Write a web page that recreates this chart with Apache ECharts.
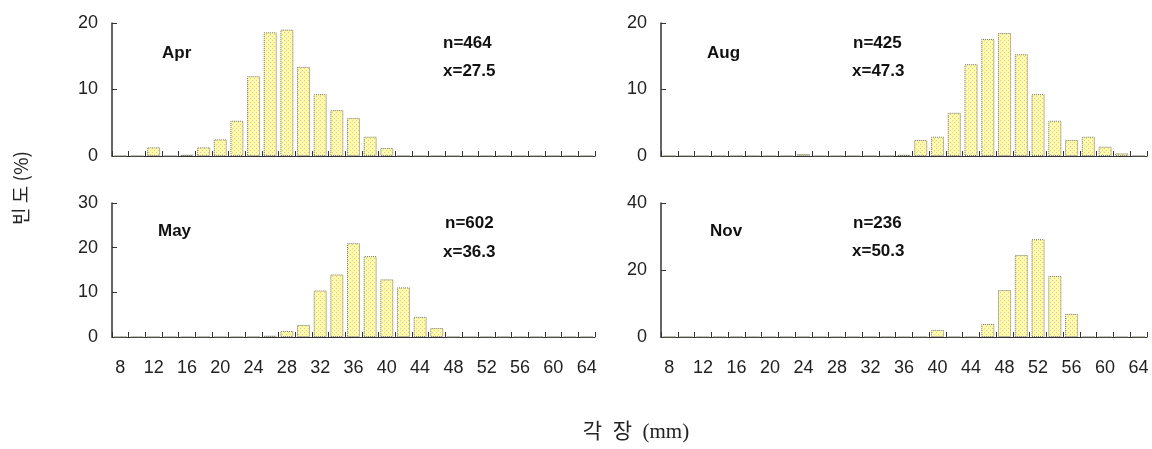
<!DOCTYPE html>
<html>
<head>
<meta charset="utf-8">
<script src="https://cdn.jsdelivr.net/npm/echarts@6/dist/echarts.min.js"></script>
<style>html,body{margin:0;padding:0;background:#fff}#c{width:1152px;height:449px}</style>
</head>
<body>
<div id="c"></div>
<script>
// ---- data ----
const categories = [8,10,12,14,16,18,20,22,24,26,28,30,32,34,36,38,40,42,44,46,48,50,52,54,56,58,60,62,64];
const aprValues = [0,0,1.3,0,0.2,1.3,2.5,5.3,12.0,18.6,19.0,13.4,9.3,6.9,5.7,2.9,1.2,0,0,0,0,0,0,0,0,0,0,0,0];
const augValues = [0,0,0,0,0,0,0,0,0.3,0,0,0,0,0,0.2,2.4,2.9,6.5,13.8,17.6,18.5,15.3,9.3,5.3,2.4,2.9,1.4,0.4,0];
const mayValues = [0,0,0,0,0,0,0,0,0,0.3,1.35,2.7,10.4,14.0,21.0,18.1,12.9,11.1,4.5,2.0,0,0,0,0,0,0,0,0,0];
const novValues = [0,0,0,0,0,0,0,0,0,0,0,0,0,0,0,0,2.1,0,0,3.9,14.0,24.5,29.2,18.2,6.9,0,0,0,0];
const panelMonths = ['Apr','Aug','May','Nov'];
const panelN = ['n=464','n=425','n=602','n=236'];
const panelMean = ['x=27.5','x=47.3','x=36.3','x=50.3'];
const yMax = [20,20,30,40];
const yInterval = [10,10,10,20];
const yTitle = '빈 도 (%)';
const xTitle = '각  장  (mm)';

// ---- pattern fill ----
function makePattern(){
  const c = document.createElement('canvas');
  c.width = 4; c.height = 4;
  const g = c.getContext('2d');
  g.fillStyle = '#fffaa6'; g.fillRect(0,0,4,4);
  g.fillStyle = '#f6c08a'; g.fillRect(0,0,1,1);
  g.fillStyle = '#d0d0a8'; g.fillRect(2,2,1,1);
  g.fillStyle = '#fffde0'; g.fillRect(2,0,1,1);
  return c;
}
const pat = makePattern();

const grids = [
  {left:112, top:23, width:483, height:133},
  {left:661, top:23, width:486, height:133},
  {left:112, top:203, width:483, height:134},
  {left:661, top:203, width:486, height:134}
];
const seriesData = [aprValues, augValues, mayValues, novValues];
const labelFont = 'Liberation Sans, Arial, sans-serif';

const xAxes = grids.map((g,i)=>({
  type:'category', gridIndex:i, data:categories, boundaryGap:true,
  axisLine:{lineStyle:{color:'#333', width:1.2}},
  axisTick:{show:true, inside:true, length:5, interval:0, lineStyle:{color:'#333'}},
  axisLabel:{show:i>=2, interval:1, margin:22, fontSize:18, color:'#222', fontFamily:labelFont}
}));
const yAxes = grids.map((g,i)=>({
  type:'value', gridIndex:i, min:0, max:yMax[i], interval:yInterval[i],
  splitLine:{show:false},
  axisLine:{show:true, lineStyle:{color:'#333', width:1.5}},
  axisTick:{show:true, inside:true, length:5, lineStyle:{color:'#333'}},
  axisLabel:{fontSize:18, color:'#222', margin:14, fontFamily:labelFont}
}));
const series = seriesData.map((d,i)=>({
  type:'bar', xAxisIndex:i, yAxisIndex:i, data:d, barCategoryGap:'22%',
  itemStyle:{color:{image:pat, repeat:'repeat'}, borderColor:'#6f6f60', borderWidth:1, borderType:'dotted'},
  silent:true, animation:false
}));

const textPos = [
  {m:[162,55], n:[443,45], x:[443,73]},
  {m:[707,55], n:[853,45], x:[852,73]},
  {m:[158,233], n:[445,225], x:[443,254]},
  {m:[710,233], n:[853,225], x:[852,253]}
];
const graphics = [];
textPos.forEach((p,i)=>{
  const st = {fontSize:17, fontWeight:'bold', fill:'#111', fontFamily:labelFont};
  graphics.push({type:'text', left:p.m[0], top:p.m[1]-10, style:Object.assign({text:panelMonths[i]}, st)});
  graphics.push({type:'text', left:p.n[0], top:p.n[1]-10, style:Object.assign({text:panelN[i]}, st)});
  graphics.push({type:'text', left:p.x[0], top:p.x[1]-10, style:Object.assign({text:panelMean[i]}, st)});
});
graphics.push({type:'text', x:21, y:188, rotation:Math.PI/2,
  style:{text:yTitle, fontSize:19, fill:'#222', fontFamily:'Noto Sans CJK KR', align:'center', verticalAlign:'middle'}});
graphics.push({type:'text', x:636, y:432,
  style:{text:xTitle, fontSize:21, fill:'#222', fontFamily:'Liberation Serif, Noto Sans CJK KR', align:'center', verticalAlign:'middle'}});

const chart = echarts.init(document.getElementById('c'), null, {renderer:'canvas'});
chart.setOption({
  animation:false,
  grid:grids,
  xAxis:xAxes,
  yAxis:yAxes,
  series:series,
  graphic:graphics
});
</script>
</body>
</html>
